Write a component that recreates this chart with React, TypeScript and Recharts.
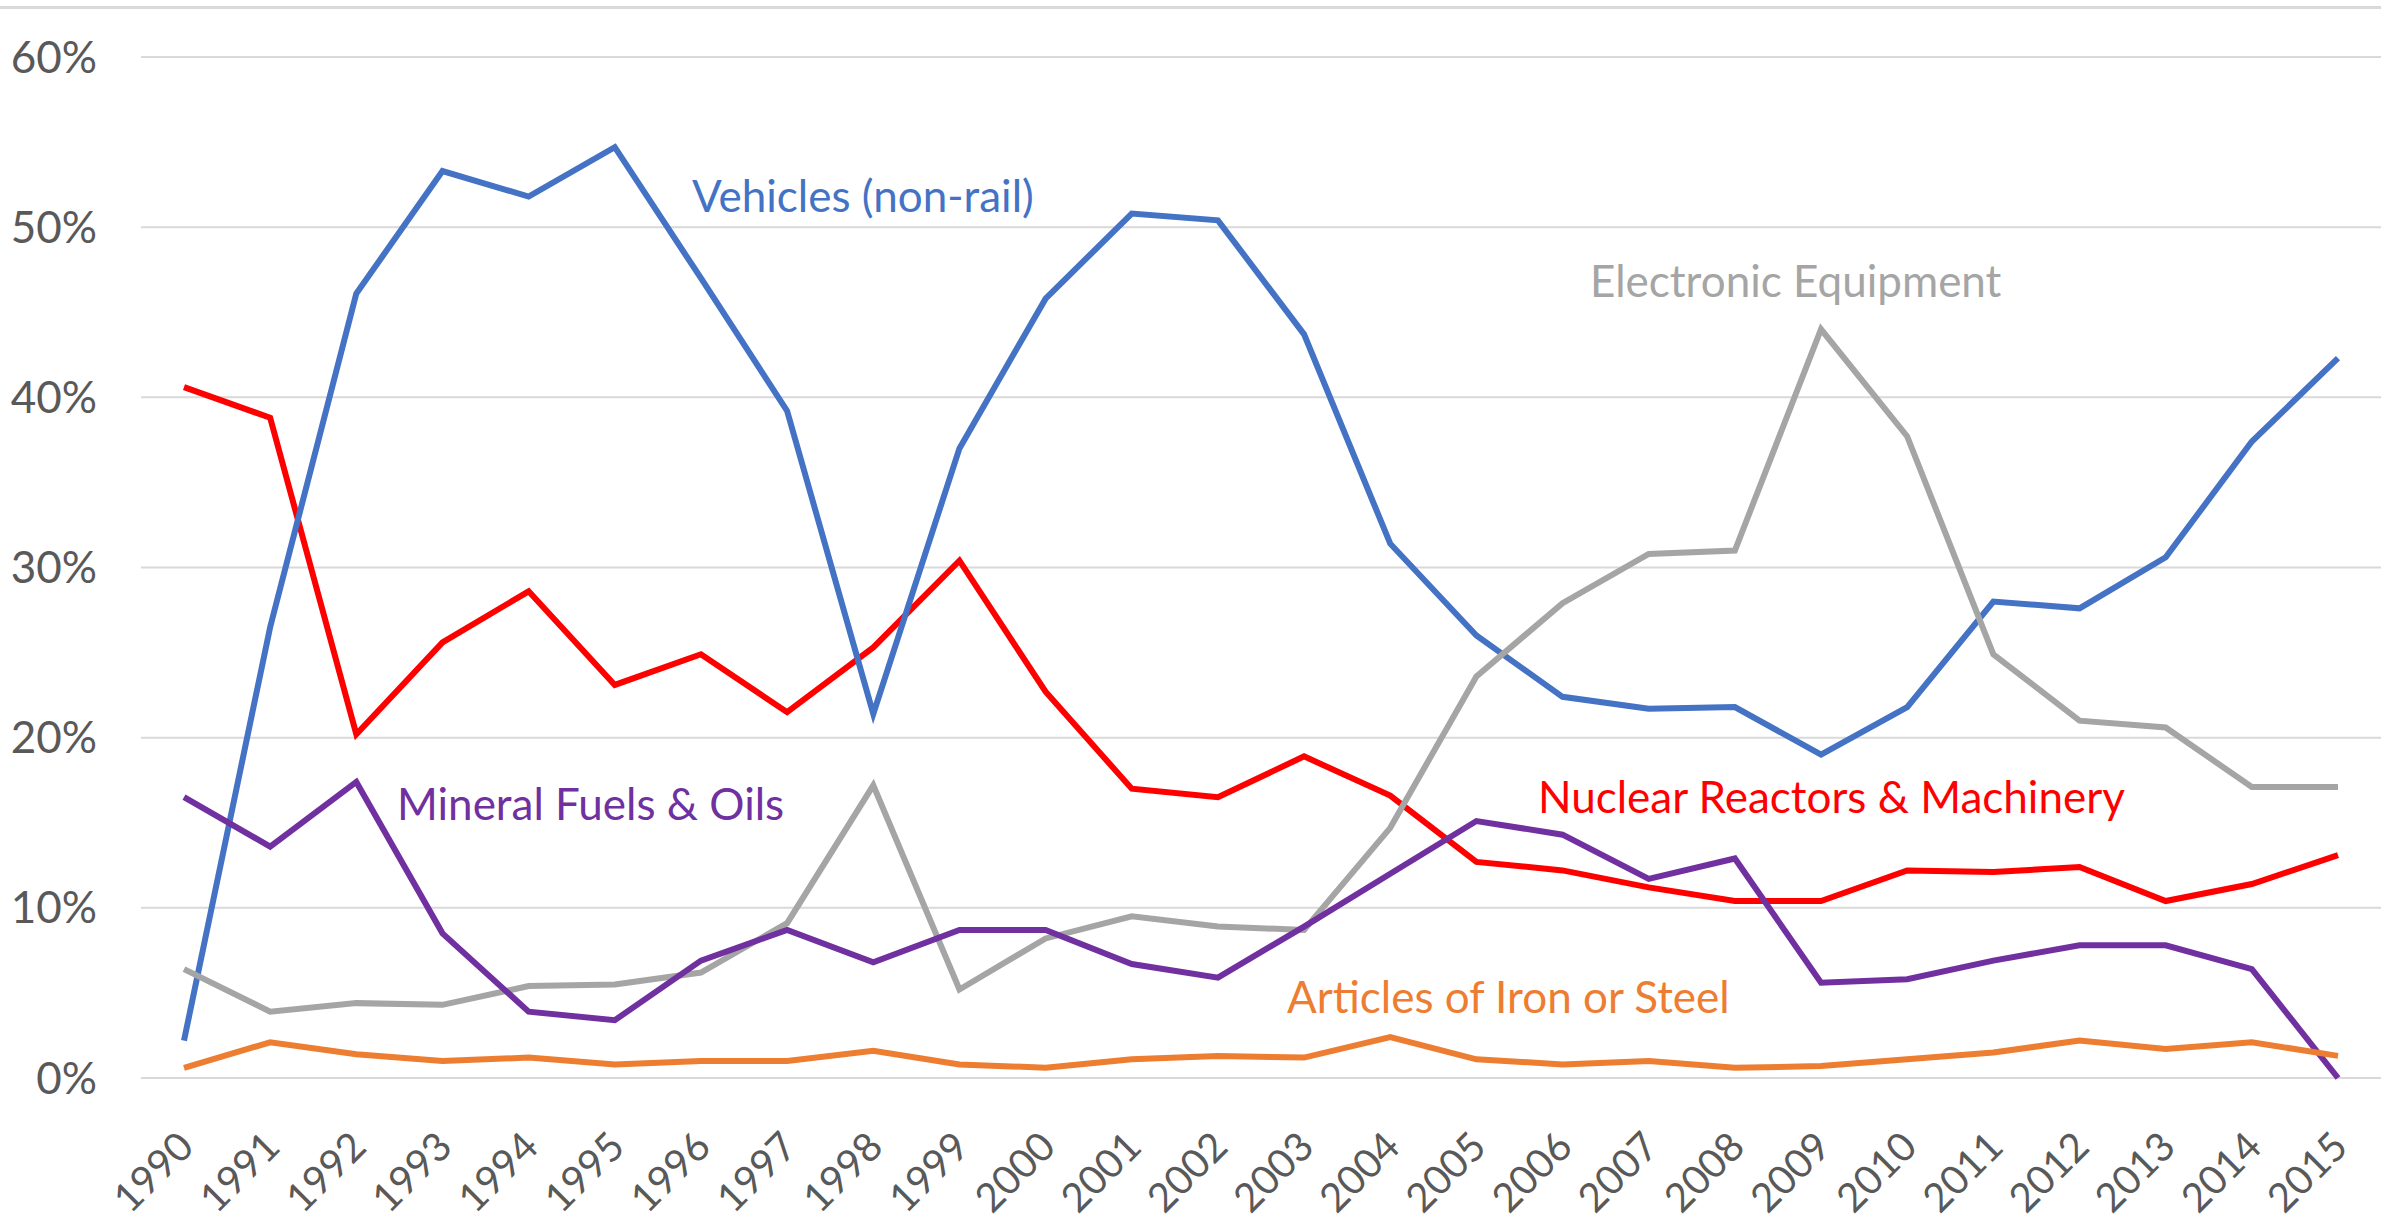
import React from "react";
import { LineChart, Line, XAxis, YAxis, CartesianGrid } from "recharts";

const years = [
  "1990", "1991", "1992", "1993", "1994", "1995", "1996", "1997", "1998", "1999",
  "2000", "2001", "2002", "2003", "2004", "2005", "2006", "2007", "2008", "2009",
  "2010", "2011", "2012", "2013", "2014", "2015",
];

const vehicles = [
  2.2, 26.5, 46.1, 53.3, 51.8, 54.7, 47.0, 39.2, 21.4, 37.0,
  45.8, 50.8, 50.4, 43.7, 31.4, 26.0, 22.4, 21.7, 21.8, 19.0,
  21.8, 28.0, 27.6, 30.6, 37.4, 42.3,
];
const nuclear = [
  40.6, 38.8, 20.2, 25.6, 28.6, 23.1, 24.9, 21.5, 25.3, 30.4,
  22.7, 17.0, 16.5, 18.9, 16.6, 12.7, 12.2, 11.2, 10.4, 10.4,
  12.2, 12.1, 12.4, 10.4, 11.4, 13.1,
];
const electronic = [
  6.4, 3.9, 4.4, 4.3, 5.4, 5.5, 6.2, 9.1, 17.2, 5.2,
  8.2, 9.5, 8.9, 8.7, 14.7, 23.6, 27.9, 30.8, 31.0, 44.0,
  37.7, 24.9, 21.0, 20.6, 17.1, 17.1,
];
const mineral = [
  16.5, 13.6, 17.4, 8.5, 3.9, 3.4, 6.9, 8.7, 6.8, 8.7,
  8.7, 6.7, 5.9, 8.9, 12.0, 15.1, 14.3, 11.7, 12.9, 5.6,
  5.8, 6.9, 7.8, 7.8, 6.4, 0.0,
];
const ironSteel = [
  0.6, 2.1, 1.4, 1.0, 1.2, 0.8, 1.0, 1.0, 1.6, 0.8,
  0.6, 1.1, 1.3, 1.2, 2.4, 1.1, 0.8, 1.0, 0.6, 0.7,
  1.1, 1.5, 2.2, 1.7, 2.1, 1.3,
];

const yTicks = [0, 10, 20, 30, 40, 50, 60];

const data = years.map((year, i) => ({
  year,
  vehicles: vehicles[i],
  nuclear: nuclear[i],
  electronic: electronic[i],
  mineral: mineral[i],
  ironSteel: ironSteel[i],
}));

const FONT = "Lato, 'Open Sans', sans-serif";
const AXIS_GREY = "#595959";
const LINE_W = 6;

function YearTick({ x, y, payload }: any) {
  const tx = x + 12;
  const ty = y + 71;
  return (
    <text
      x={tx}
      y={ty}
      textAnchor="end"
      fontSize={40}
      fontFamily={FONT}
      fill={AXIS_GREY}
      transform={`rotate(-45, ${tx}, ${ty})`}
    >
      {payload.value}
    </text>
  );
}

// series names sit next to their lines, like the original Excel labels
const seriesLabels = [
  { text: "Vehicles (non-rail)", x: 692, y: 212, color: "#4472C4" },
  { text: "Electronic Equipment", x: 1590, y: 297, color: "#A5A5A5" },
  { text: "Mineral Fuels & Oils", x: 397, y: 820, color: "#7030A0" },
  { text: "Nuclear Reactors & Machinery", x: 1538, y: 813, color: "#FF0000" },
  { text: "Articles of Iron or Steel", x: 1287, y: 1013, color: "#ED7D31" },
];

export default function App() {
  return (
    <div
      style={{
        position: "absolute",
        left: 0,
        top: 0,
        width: 2381,
        height: 1232,
        background: "#fff",
        overflow: "hidden",
      }}
    >
      <div
        style={{
          position: "absolute",
          left: 0,
          top: 6,
          width: 2381,
          height: 3,
          background: "#d9d9d9",
        }}
      />
      <LineChart
        width={2381}
        height={1232}
        data={data}
        margin={{ top: 57, right: 0, bottom: 0, left: 0 }}
      >
        <CartesianGrid vertical={false} stroke="#d9d9d9" strokeWidth={2} />
        <XAxis
          dataKey="year"
          interval={0}
          height={154}
          padding={{ left: 43, right: 43 }}
          axisLine={false}
          tickLine={false}
          tickSize={0}
          tickMargin={0}
          tick={<YearTick />}
        />
        <YAxis
          width={141}
          domain={[0, 60]}
          ticks={yTicks}
          tickFormatter={(v: number) => `${v}%`}
          axisLine={false}
          tickLine={false}
          tickSize={0}
          tickMargin={44}
          tick={{ fontSize: 44, fill: AXIS_GREY, fontFamily: FONT }}
        />
        <Line dataKey="nuclear" stroke="#FF0000" strokeWidth={LINE_W} dot={false} isAnimationActive={false} />
        <Line dataKey="vehicles" stroke="#4472C4" strokeWidth={LINE_W} dot={false} isAnimationActive={false} />
        <Line dataKey="electronic" stroke="#A5A5A5" strokeWidth={LINE_W} dot={false} isAnimationActive={false} />
        <Line dataKey="mineral" stroke="#7030A0" strokeWidth={LINE_W} dot={false} isAnimationActive={false} />
        <Line dataKey="ironSteel" stroke="#ED7D31" strokeWidth={LINE_W} dot={false} isAnimationActive={false} />
      </LineChart>
      <svg
        width={2381}
        height={1232}
        style={{ position: "absolute", left: 0, top: 0, pointerEvents: "none" }}
      >
        {seriesLabels.map((l) => (
          <text key={l.text} x={l.x} y={l.y} fontSize={44} fontFamily={FONT} fill={l.color}>
            {l.text}
          </text>
        ))}
      </svg>
    </div>
  );
}
